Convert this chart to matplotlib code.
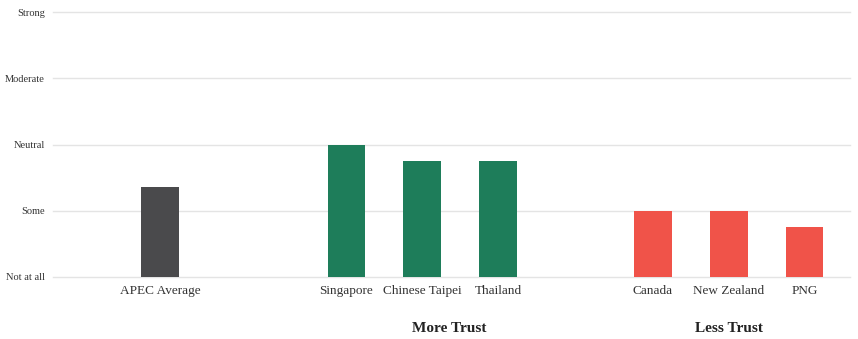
import matplotlib
matplotlib.use("Agg")
import matplotlib.pyplot as plt

categories = ["APEC Average", "Singapore", "Chinese Taipei", "Thailand", "Canada", "New Zealand", "PNG"]
values = [1.36, 2.0, 1.75, 1.75, 1.0, 1.0, 0.75]
groups = ["avg", "more", "more", "more", "less", "less", "less"]
y_labels = ["Not at all", "Some", "Neutral", "Moderate", "Strong"]
group_titles = {"more": "More Trust", "less": "Less Trust"}

# layout
positions = [0, 2.46, 3.46, 4.46, 6.5, 7.5, 8.5]
colors = {"avg": "#4a4a4c", "more": "#1e7d5a", "less": "#f05349"}

plt.rcParams['font.family'] = ['Liberation Serif', 'DejaVu Serif']

W, H = 858, 339
fig = plt.figure(figsize=(W / 100, H / 100), dpi=100)
left, right, bottom, top = 53, 850, 277, 12
ax = fig.add_axes([left / W, (H - bottom) / H, (right - left) / W, (bottom - top) / H])

ax.bar(positions, values, width=0.5, color=[colors[g] for g in groups], zorder=3)
ax.set_xlim(-1.41, 9.1)
ax.set_ylim(0, 4)
ax.set_yticks(range(len(y_labels)))
ax.set_yticklabels(y_labels, fontsize=7.5, color="#333333")
ax.set_xticks(positions)
ax.set_xticklabels(categories, fontsize=9.5, color="#333333")
ax.tick_params(axis="y", length=0, pad=6)
ax.tick_params(axis="x", length=0, pad=6)
ax.grid(axis="y", color="#e4e4e4", linewidth=1, zorder=0)
for line in ax.get_ygridlines():
    line.set_clip_on(False)
for s in ax.spines.values():
    s.set_visible(False)

for key, xpos in (("more", 3.81), ("less", 7.5)):
    ax.text(xpos, -0.78, group_titles[key], ha="center", va="center",
            fontsize=11, fontweight="bold", color="#222222")

fig.savefig("out.png", dpi=100)
